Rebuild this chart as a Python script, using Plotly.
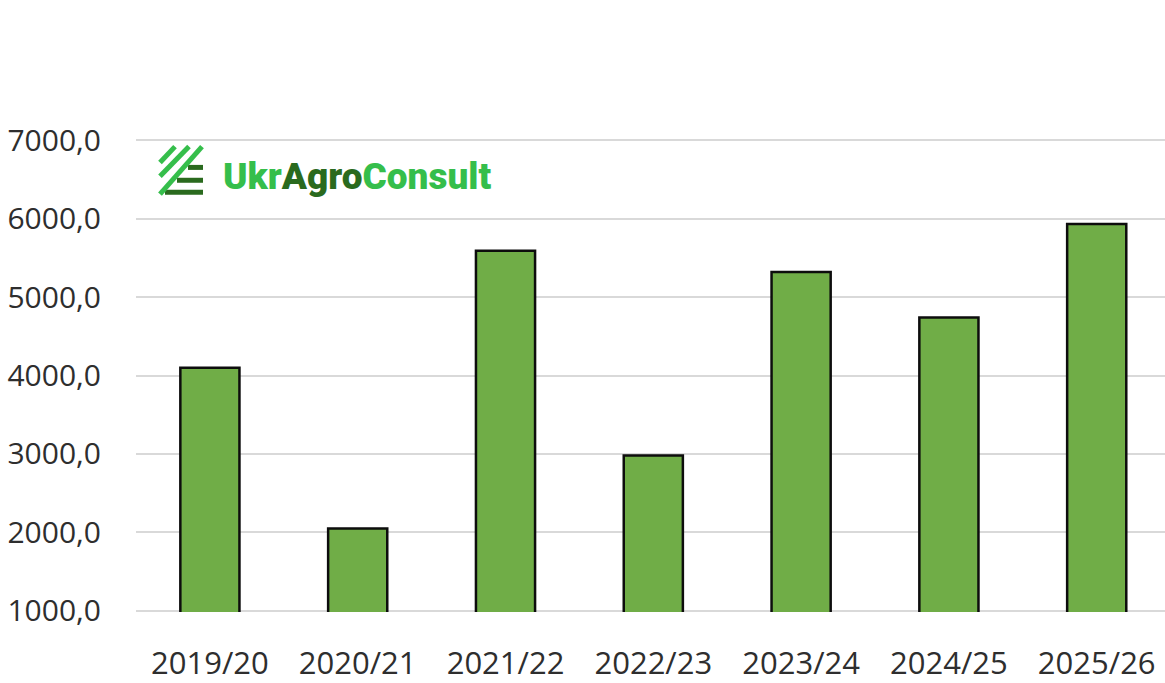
import plotly.graph_objects as go

seasons = ["2019/20", "2020/21", "2021/22", "2022/23", "2023/24", "2024/25", "2025/26"]
values = [4100, 2050, 5590, 2980, 5320, 4740, 5930]
y_ticks = [1000, 2000, 3000, 4000, 5000, 6000, 7000]
y_labels = ["1000,0", "2000,0", "3000,0", "4000,0", "5000,0", "6000,0", "7000,0"]

W, H = 1165, 683
L, R, T, B = 136, 0, 139.3, 65.8

def px(x): return (x - L) / (W - L - R)
def py(y): return (H - B - y) / (H - T - B)

fig = go.Figure(go.Bar(
    x=seasons, y=values, width=0.4,
    marker=dict(color="#70AD47", line=dict(color="#0d0d0d", width=2.5)),
))

LIGHT, DARK = "#35BE4B", "#2A6A1E"
shapes = []
for x0, y0 in [(188, 168), (177, 181), (165, 193)]:
    shapes.append(dict(type="line", xref="paper", yref="paper", x0=px(x0), y0=py(y0), x1=px(203), y1=py(y0),
                       line=dict(color=DARK, width=5)))
for x0, y0, x1, y1 in [(160, 163, 175, 147), (160, 177, 189, 147), (160, 195, 202, 147)]:
    shapes.append(dict(type="line", xref="paper", yref="paper", x0=px(x0), y0=py(y0), x1=px(x1), y1=py(y1),
                       line=dict(color=LIGHT, width=5)))

fig.update_layout(
    width=W, height=H, autosize=False,
    margin=dict(l=L, r=R, t=T, b=B, pad=0),
    paper_bgcolor="white", plot_bgcolor="white",
    showlegend=False,
    font=dict(family="Open Sans", color="#2e2e2e", size=30),
    xaxis=dict(type="category", range=[-0.5, 6.462], showgrid=False, zeroline=False, showline=False, ticks="",
               ticklabelstandoff=30, tickfont=dict(size=31)),
    yaxis=dict(range=[985, 7015], tickvals=y_ticks, ticktext=y_labels, showgrid=True,
               gridcolor="#D9D9D9", gridwidth=2, zeroline=False, showline=False, ticks="",
               ticklabelstandoff=34, tickfont=dict(size=30)),
    shapes=shapes,
    annotations=[dict(
        xref="paper", yref="paper", x=px(221), y=py(177), xanchor="left", yanchor="middle",
        showarrow=False,
        text=f'<span style="color:{LIGHT}">Ukr</span><span style="color:{DARK}">Agro</span>'
             f'<span style="color:{LIGHT}">Consult</span>',
        font=dict(family="Roboto", size=37, weight=900),
    )],
)
fig.write_html("out.html", config={"displayModeBar": False}, post_script="document.body.style.margin='0';")
